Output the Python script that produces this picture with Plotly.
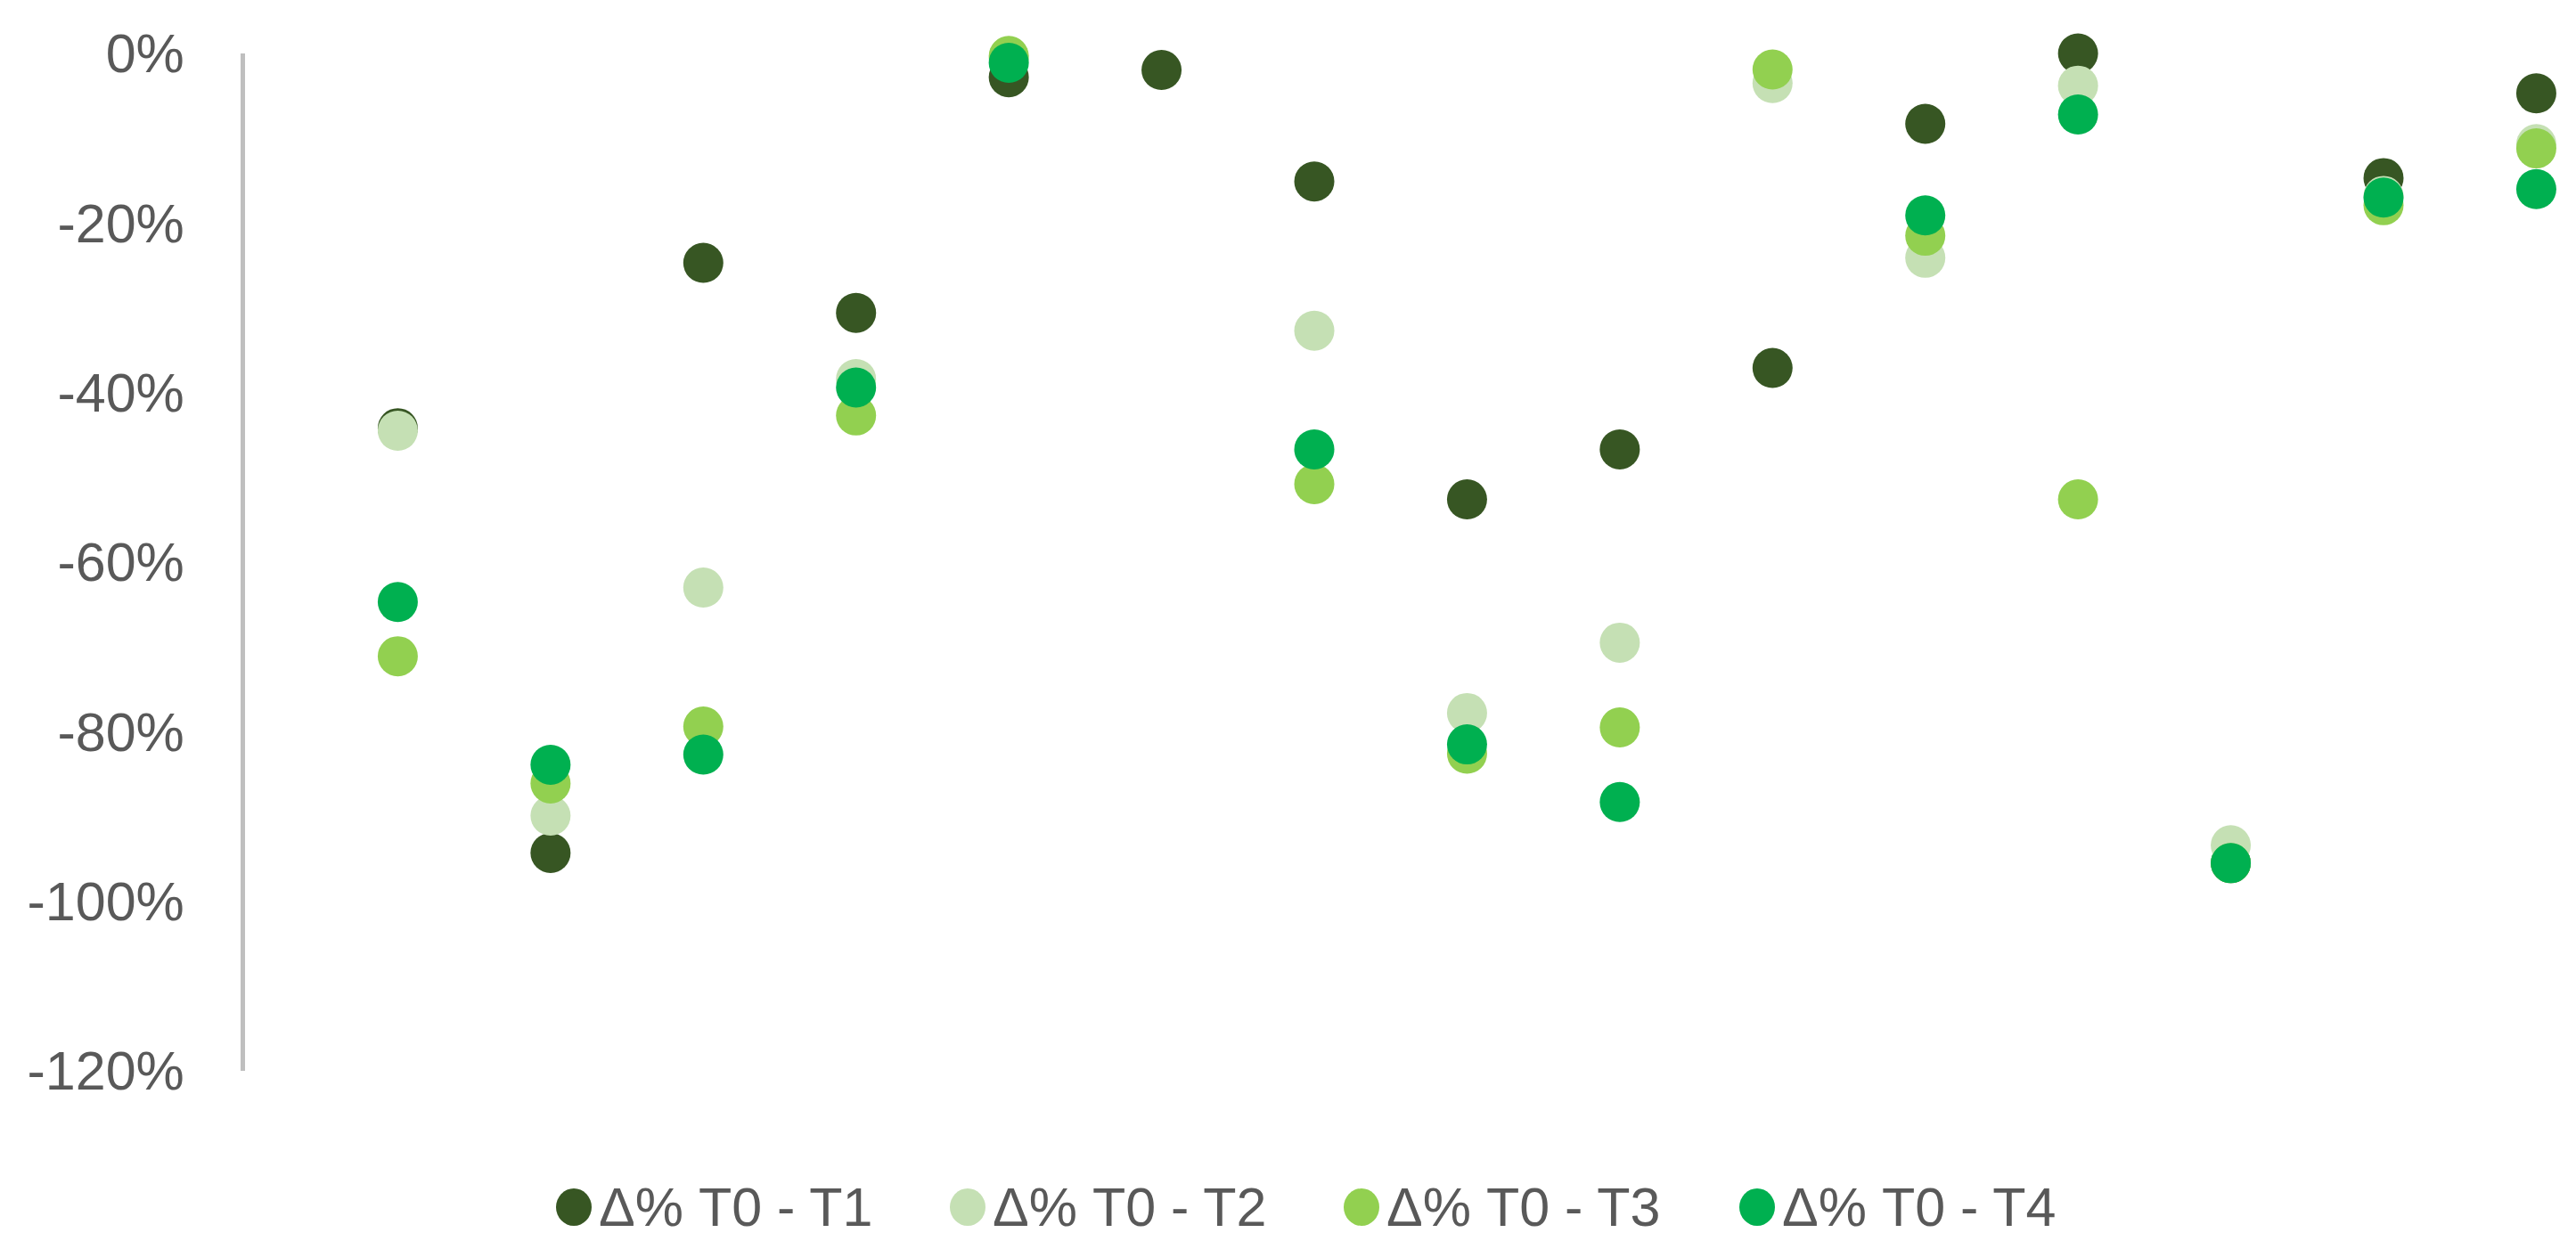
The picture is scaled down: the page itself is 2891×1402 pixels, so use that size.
import plotly.graph_objects as go

categories = list(range(1, 16))
series_names = ["Δ% T0 - T1", "Δ% T0 - T2", "Δ% T0 - T3", "Δ% T0 - T4"]
t1 = [-0.442, -0.943, -0.247, -0.306, -0.028, -0.0195, -0.151, -0.526, -0.467, -0.371, -0.083, 0.000, -0.955, -0.147, -0.047]
t2 = [-0.445, -0.899, -0.630, -0.384, -0.006, None, -0.327, -0.778, -0.695, -0.035, -0.241, -0.038, -0.934, -0.168, -0.107]
t3 = [-0.711, -0.861, -0.794, -0.427, -0.003, None, -0.508, -0.826, -0.795, -0.019, -0.215, -0.526, -0.955, -0.179, -0.112]
t4 = [-0.647, -0.839, -0.827, -0.394, -0.011, None, -0.467, -0.815, -0.883, None, -0.191, -0.072, -0.955, -0.170, -0.160]
colors = ["#375623", "#C5E0B4", "#92D050", "#00B050"]
ytick_vals = [-1.2, -1.0, -0.8, -0.6, -0.4, -0.2, 0.0]
ytick_text = ["-120%", "-100%", "-80%", "-60%", "-40%", "-20%", "0%"]

FONT = "Liberation Sans, Arial, sans-serif"
TEXT_COLOR = "#595959"
W, H = 2891, 1402
ML, MR, MT, MB = 275, 0, 60, 200
PW, PH = W - ML - MR, H - MT - MB

fig = go.Figure()
for name, vals, col in zip(series_names, [t1, t2, t3, t4], colors):
    fig.add_trace(go.Scatter(
        x=categories, y=vals, name=name, mode="markers",
        marker=dict(size=45, color=col, line=dict(width=0)),
        cliponaxis=False, showlegend=False,
    ))

# custom legend (large round keys like the reference)
legend_marker_x = [644, 1086, 1528, 1972]
legend_y_px = 1355
ly = (H - MB - legend_y_px) / PH
shapes = []
annotations = []
for name, col, mx in zip(series_names, colors, legend_marker_x):
    px = (mx - ML) / PW
    shapes.append(dict(type="circle", xref="paper", yref="paper",
                       xsizemode="pixel", ysizemode="pixel",
                       xanchor=px, yanchor=ly, x0=-20, x1=20, y0=-21, y1=21,
                       fillcolor=col, line=dict(width=0)))
    annotations.append(dict(xref="paper", yref="paper", x=(mx + 26 - ML) / PW, y=ly,
                            xanchor="left", yanchor="middle", showarrow=False,
                            text=name, font=dict(family=FONT, size=61, color=TEXT_COLOR)))

fig.update_layout(
    width=W, height=H,
    margin=dict(l=ML, r=MR, t=MT, b=MB, autoexpand=False),
    paper_bgcolor="white", plot_bgcolor="white",
    font=dict(family=FONT, size=61, color=TEXT_COLOR),
    showlegend=False,
    shapes=shapes,
    annotations=annotations,
    xaxis=dict(range=[0, 15.26], showgrid=False, zeroline=False, showline=False,
               showticklabels=False, ticks="", automargin=False),
    yaxis=dict(range=[-1.2, 0], tickvals=ytick_vals, ticktext=ytick_text,
               showgrid=False, zeroline=False, showline=True, linecolor="#BFBFBF",
               linewidth=5, ticks="", ticklabelstandoff=51, automargin=False),
)

fig.write_html("out.html", config={"displayModeBar": False},
               post_script="document.body.style.margin='0';document.body.style.overflow='hidden';")
